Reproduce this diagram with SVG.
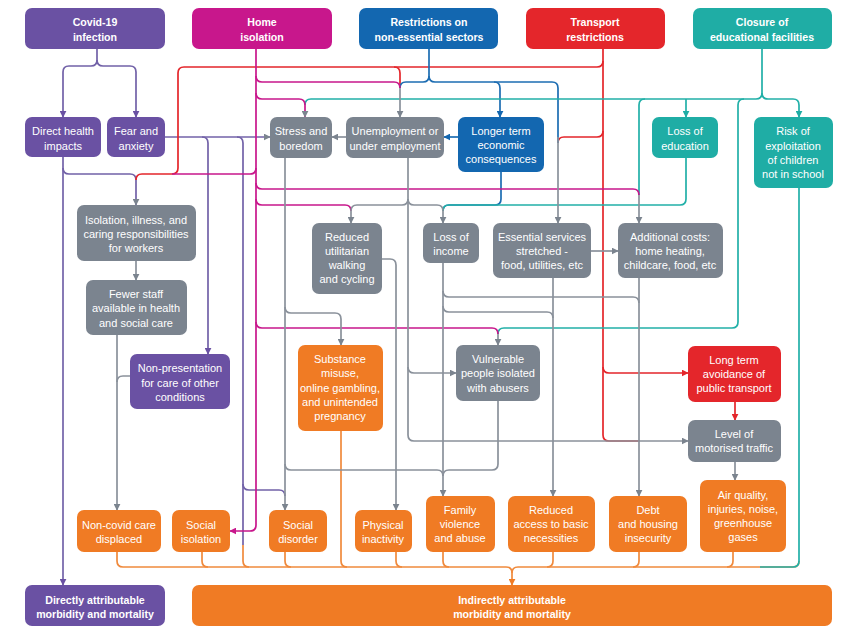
<svg xmlns="http://www.w3.org/2000/svg" width="843" height="626" viewBox="0 0 843 626">
<defs>
<style>
.t{font-family:"Liberation Sans",Arial,sans-serif;font-size:11px;fill:#fff;text-anchor:middle}
.h{font-family:"Liberation Sans",Arial,sans-serif;font-size:10.6px;font-weight:bold;fill:#fff;text-anchor:middle}
.c{fill:none;stroke-width:1.7}
.pu{stroke:#7262a8}.gr{stroke:#8a919b}.mg{stroke:#c8178c}.bl{stroke:#1d6db2}.rd{stroke:#e4262b}.tl{stroke:#22b0a8}.or{stroke:#f08a3c}
.bpu{fill:#6a51a3}.bmg{fill:#c8178c}.bbl{fill:#1367b0}.brd{fill:#e4262b}.btl{fill:#1fada5}.bgr{fill:#7b848f}.bor{fill:#f07b24}
</style>
<marker id="aPu" viewBox="0 0 10 10" refX="9" refY="5" markerWidth="7" markerHeight="7" markerUnits="userSpaceOnUse" orient="auto"><path d="M0,0 L10,5 L0,10 z" fill="#6a51a3"/></marker>
<marker id="aGr" viewBox="0 0 10 10" refX="9" refY="5" markerWidth="7" markerHeight="7" markerUnits="userSpaceOnUse" orient="auto"><path d="M0,0 L10,5 L0,10 z" fill="#7b848f"/></marker>
<marker id="aMg" viewBox="0 0 10 10" refX="9" refY="5" markerWidth="7" markerHeight="7" markerUnits="userSpaceOnUse" orient="auto"><path d="M0,0 L10,5 L0,10 z" fill="#c8178c"/></marker>
<marker id="aBl" viewBox="0 0 10 10" refX="9" refY="5" markerWidth="7" markerHeight="7" markerUnits="userSpaceOnUse" orient="auto"><path d="M0,0 L10,5 L0,10 z" fill="#1367b0"/></marker>
<marker id="aRd" viewBox="0 0 10 10" refX="9" refY="5" markerWidth="7" markerHeight="7" markerUnits="userSpaceOnUse" orient="auto"><path d="M0,0 L10,5 L0,10 z" fill="#e4262b"/></marker>
<marker id="aTl" viewBox="0 0 10 10" refX="9" refY="5" markerWidth="7" markerHeight="7" markerUnits="userSpaceOnUse" orient="auto"><path d="M0,0 L10,5 L0,10 z" fill="#1fada5"/></marker>
<marker id="aOr" viewBox="0 0 10 10" refX="9" refY="5" markerWidth="7" markerHeight="7" markerUnits="userSpaceOnUse" orient="auto"><path d="M0,0 L10,5 L0,10 z" fill="#f07b24"/></marker>
</defs>
<rect width="843" height="626" fill="#fff"/>
<g id="connectors">
<!-- orange bus -->
<path class="c or" d="M117,552 V561 Q117,567 123,567 H506 Q512,567 512,573 V585" marker-end="url(#aOr)"/>
<path class="c or" d="M202,552 V561 Q202,567 208,567"/>
<path class="c or" d="M243,545 V561 Q243,567 249,567"/>
<path class="c or" d="M285,552 V561 Q285,567 291,567"/>
<path class="c or" d="M341,431 V561 Q341,567 347,567"/>
<path class="c or" d="M396,552 V561 Q396,567 402,567"/>
<path class="c or" d="M443,552 V561 Q443,567 449,567"/>
<path class="c or" d="M799,561 Q799,567 793,567 H518 Q512,567 512,573"/>
<path class="c or" d="M553,552 V561 Q553,567 547,567"/>
<path class="c or" d="M639,552 V561 Q639,567 633,567"/>
<path class="c or" d="M733,552 V561 Q733,567 727,567"/>
<!-- purple -->
<path class="c pu" d="M97,49 V60 Q97,66 91,66 H69 Q63,66 63,72 V117" marker-end="url(#aPu)"/>
<path class="c pu" d="M97,60 Q97,66 103,66 H130 Q136,66 136,72 V117" marker-end="url(#aPu)"/>
<path class="c pu" d="M63,157 V585" marker-end="url(#aPu)"/>
<path class="c pu" d="M63,168 Q63,174 69,174 H130 Q136,174 136,180 V205" marker-end="url(#aGr)"/>
<path class="c pu" d="M165,137 H270" marker-end="url(#aGr)"/>
<path class="c pu" d="M202,137 Q208,137 208,143 V354" marker-end="url(#aPu)"/>
<path class="c pu" d="M237,137 Q243,137 243,143 V545"/>
<path class="c pu" d="M243,484 Q243,490 249,490 H279 Q285,490 285,496"/>
<!-- red -->
<path class="c rd" d="M603,49 V367 Q603,373 609,373 H688" marker-end="url(#aRd)"/>
<path class="c rd" d="M603,367 V435 Q603,441 609,441 H640"/>
<path class="c rd" d="M603,61 Q603,67 597,67 H184 Q178,67 178,73 V168 Q178,174 172,174 H142 Q136,174 136,180"/>
<path class="c rd" d="M394,67 Q400,67 400,73 V88"/>
<path class="c rd" d="M603,131 Q603,137 597,137 H564 Q558,137 558,143"/>
<path class="c rd" d="M735,402 V420" marker-end="url(#aRd)"/>
<!-- blue -->
<path class="c bl" d="M429,49 V76 Q429,82 423,82 H406 Q400,82 400,88"/>
<path class="c bl" d="M429,76 Q429,82 435,82 H494 Q500,82 500,88 V117" marker-end="url(#aBl)"/>
<path class="c bl" d="M494,82 H552 Q558,82 558,88 V143"/>
<path class="c bl" d="M458,137 H444" marker-end="url(#aBl)"/>
<path class="c bl" d="M501,172 V199 Q501,205 495,205 H449 Q443,205 443,211"/>
<!-- teal -->
<path class="c tl" d="M762,49 V93 Q762,99 756,99 H311 Q305,99 305,105"/>
<path class="c tl" d="M762,93 Q762,99 768,99 H793 Q799,99 799,105 V117" marker-end="url(#aTl)"/>
<path class="c tl" d="M686,99 V117" marker-end="url(#aTl)"/>
<path class="c tl" d="M645,99 Q639,99 639,105 V195"/>
<path class="c tl" d="M744,99 Q738,99 738,105 V322 Q738,328 732,328 H504 Q498,328 498,334"/>
<path class="c tl" d="M686,158 V199 Q686,205 680,205 H449 Q443,205 443,211"/>
<path class="c tl" d="M799,188 V561 Q799,567 793,567 H760"/>
<!-- magenta -->
<path class="c mg" d="M256,49 V525 Q256,531 250,531 H230" marker-end="url(#aMg)"/>
<path class="c mg" d="M256,76 Q256,82 262,82 H394 Q400,82 400,88"/>
<path class="c mg" d="M256,93 Q256,99 262,99 H299 Q305,99 305,105 V117" marker-end="url(#aGr)"/>
<path class="c mg" d="M256,168 Q256,174 250,174 H172"/>
<path class="c mg" d="M256,183 Q256,189 262,189 H633 Q639,189 639,195"/>
<path class="c mg" d="M256,199 Q256,205 262,205 H345 Q351,205 351,211"/>
<path class="c mg" d="M256,322 Q256,328 262,328 H492 Q498,328 498,334"/>
<!-- gray -->
<path class="c gr" d="M400,88 V117" marker-end="url(#aGr)"/>
<path class="c gr" d="M558,137 V223" marker-end="url(#aGr)"/>
<path class="c gr" d="M639,195 V223" marker-end="url(#aGr)"/>
<path class="c gr" d="M498,334 V345" marker-end="url(#aGr)"/>
<path class="c gr" d="M346,137 H332" marker-end="url(#aGr)"/>
<path class="c gr" d="M408,158 V435 Q408,441 414,441 H688" marker-end="url(#aGr)"/>
<path class="c gr" d="M408,199 Q408,205 402,205 H357 Q351,205 351,211 V223" marker-end="url(#aGr)"/>
<path class="c gr" d="M408,199 Q408,205 414,205 H437 Q443,205 443,211 V223" marker-end="url(#aGr)"/>
<path class="c gr" d="M408,367 Q408,373 414,373 H456" marker-end="url(#aGr)"/>
<path class="c gr" d="M285,158 V510" marker-end="url(#aGr)"/>
<path class="c gr" d="M285,307 Q285,313 291,313 H335 Q341,313 341,319 V345" marker-end="url(#aGr)"/>
<path class="c gr" d="M285,464 Q285,470 291,470 H437 Q443,470 443,476"/>
<path class="c gr" d="M136,261 V280" marker-end="url(#aGr)"/>
<path class="c gr" d="M117,335 V510" marker-end="url(#aGr)"/>
<path class="c gr" d="M130,376 H123 Q117,376 117,382"/>
<path class="c gr" d="M382,259 H390 Q396,259 396,265 V510" marker-end="url(#aGr)"/>
<path class="c gr" d="M443,263 V496" marker-end="url(#aGr)"/>
<path class="c gr" d="M443,291 Q443,297 449,297 H633 Q639,297 639,303"/>
<path class="c gr" d="M443,306 Q443,312 449,312 H547 Q553,312 553,318"/>
<path class="c gr" d="M553,278 V496" marker-end="url(#aGr)"/>
<path class="c gr" d="M591,251 H618" marker-end="url(#aGr)"/>
<path class="c gr" d="M639,278 V496" marker-end="url(#aGr)"/>
<path class="c gr" d="M498,401 V464 Q498,470 492,470 H449 Q443,470 443,476"/>
<path class="c gr" d="M735,462 V480" marker-end="url(#aGr)"/>
</g>
<g id="covid"><rect class="bpu" x="25" y="8" width="140" height="41" rx="7"/><text class="h" x="95" y="26">Covid-19</text><text class="h" x="95" y="41">infection</text></g>
<g id="home"><rect class="bmg" x="192" y="8" width="140" height="41" rx="7"/><text class="h" x="262" y="26">Home</text><text class="h" x="262" y="41">isolation</text></g>
<g id="restrictions"><rect class="bbl" x="359" y="8" width="139" height="41" rx="7"/><text class="h" x="429" y="26">Restrictions on</text><text class="h" x="429" y="41">non-essential sectors</text></g>
<g id="transport"><rect class="brd" x="526" y="8" width="139" height="41" rx="7"/><text class="h" x="595" y="26">Transport</text><text class="h" x="595" y="41">restrictions</text></g>
<g id="closure"><rect class="btl" x="693" y="8" width="139" height="41" rx="7"/><text class="h" x="762" y="26">Closure of</text><text class="h" x="762" y="41">educational facilities</text></g>
<g id="direct"><rect class="bpu" x="25" y="117" width="76" height="40" rx="7"/><text class="t" x="63" y="135">Direct health</text><text class="t" x="63" y="150">impacts</text></g>
<g id="fear"><rect class="bpu" x="107" y="117" width="58" height="40" rx="7"/><text class="t" x="136" y="135">Fear and</text><text class="t" x="136" y="150">anxiety</text></g>
<g id="stress"><rect class="bgr" x="270" y="117" width="62" height="41" rx="7"/><text class="t" x="301" y="135">Stress and</text><text class="t" x="301" y="150">boredom</text></g>
<g id="unemployment"><rect class="bgr" x="346" y="117" width="98" height="41" rx="7"/><text class="t" x="395" y="135">Unemployment or</text><text class="t" x="395" y="150">under employment</text></g>
<g id="longer"><rect class="bbl" x="458" y="117" width="86" height="55" rx="7"/><text class="t" x="501" y="135">Longer term</text><text class="t" x="501" y="149">economic</text><text class="t" x="501" y="163">consequences</text></g>
<g id="education"><rect class="btl" x="652" y="117" width="66" height="41" rx="7"/><text class="t" x="685" y="135">Loss of</text><text class="t" x="685" y="150">education</text></g>
<g id="risk"><rect class="btl" x="754" y="117" width="79" height="71" rx="7"/><text class="t" x="793" y="135">Risk of</text><text class="t" x="793" y="150">exploitation</text><text class="t" x="793" y="164">of children</text><text class="t" x="793" y="178">not in school</text></g>
<g id="isolation"><rect class="bgr" x="77" y="205" width="119" height="56" rx="7"/><text class="t" x="136" y="224">Isolation, illness, and</text><text class="t" x="136" y="238">caring responsibilities</text><text class="t" x="136" y="252">for workers</text></g>
<g id="fewer"><rect class="bgr" x="86" y="280" width="101" height="55" rx="7"/><text class="t" x="136" y="298">Fewer staff</text><text class="t" x="136" y="312">available in health</text><text class="t" x="136" y="327">and social care</text></g>
<g id="nonpresentation"><rect class="bpu" x="130" y="354" width="100" height="55" rx="7"/><text class="t" x="180" y="372">Non-presentation</text><text class="t" x="180" y="387">for care of other</text><text class="t" x="180" y="401">conditions</text></g>
<g id="walking"><rect class="bgr" x="312" y="223" width="70" height="71" rx="7"/><text class="t" x="347" y="241">Reduced</text><text class="t" x="347" y="255">utilitarian</text><text class="t" x="347" y="269">walking</text><text class="t" x="347" y="283">and cycling</text></g>
<g id="income"><rect class="bgr" x="423" y="223" width="56" height="40" rx="7"/><text class="t" x="451" y="241">Loss of</text><text class="t" x="451" y="255">income</text></g>
<g id="essential"><rect class="bgr" x="493" y="223" width="98" height="55" rx="7"/><text class="t" x="542" y="241">Essential services</text><text class="t" x="542" y="255">stretched -</text><text class="t" x="542" y="269">food, utilities, etc</text></g>
<g id="additional"><rect class="bgr" x="618" y="223" width="105" height="55" rx="7"/><text class="t" x="670" y="241">Additional costs:</text><text class="t" x="670" y="255">home heating,</text><text class="t" x="670" y="269">childcare, food, etc</text></g>
<g id="substance"><rect class="bor" x="298" y="345" width="85" height="86" rx="7"/><text class="t" x="340" y="363">Substance</text><text class="t" x="340" y="377">misuse,</text><text class="t" x="340" y="392">online gambling,</text><text class="t" x="340" y="406">and unintended</text><text class="t" x="340" y="420">pregnancy</text></g>
<g id="vulnerable"><rect class="bgr" x="456" y="345" width="84" height="56" rx="7"/><text class="t" x="498" y="363">Vulnerable</text><text class="t" x="498" y="377">people isolated</text><text class="t" x="498" y="392">with abusers</text></g>
<g id="avoidance"><rect class="brd" x="688" y="346" width="93" height="56" rx="7"/><text class="t" x="734" y="364">Long term</text><text class="t" x="734" y="378">avoidance of</text><text class="t" x="734" y="392">public transport</text></g>
<g id="traffic"><rect class="bgr" x="688" y="420" width="93" height="42" rx="7"/><text class="t" x="734" y="438">Level of</text><text class="t" x="734" y="452">motorised traffic</text></g>
<g id="air"><rect class="bor" x="700" y="480" width="86" height="72" rx="7"/><text class="t" x="743" y="499">Air quality,</text><text class="t" x="743" y="513">injuries, noise,</text><text class="t" x="743" y="527">greenhouse</text><text class="t" x="743" y="541">gases</text></g>
<g id="noncovid"><rect class="bor" x="77" y="510" width="84" height="42" rx="7"/><text class="t" x="119" y="529">Non-covid care</text><text class="t" x="119" y="543">displaced</text></g>
<g id="socialisolation"><rect class="bor" x="172" y="510" width="58" height="42" rx="7"/><text class="t" x="201" y="529">Social</text><text class="t" x="201" y="543">isolation</text></g>
<g id="disorder"><rect class="bor" x="269" y="510" width="58" height="42" rx="7"/><text class="t" x="298" y="529">Social</text><text class="t" x="298" y="543">disorder</text></g>
<g id="inactivity"><rect class="bor" x="355" y="510" width="57" height="42" rx="7"/><text class="t" x="383" y="529">Physical</text><text class="t" x="383" y="543">inactivity</text></g>
<g id="family"><rect class="bor" x="426" y="496" width="69" height="56" rx="7"/><text class="t" x="460" y="514">Family</text><text class="t" x="460" y="528">violence</text><text class="t" x="460" y="542">and abuse</text></g>
<g id="access"><rect class="bor" x="508" y="496" width="87" height="56" rx="7"/><text class="t" x="551" y="514">Reduced</text><text class="t" x="551" y="528">access to basic</text><text class="t" x="551" y="542">necessities</text></g>
<g id="debt"><rect class="bor" x="609" y="496" width="78" height="56" rx="7"/><text class="t" x="648" y="514">Debt</text><text class="t" x="648" y="528">and housing</text><text class="t" x="648" y="542">insecurity</text></g>
<g id="directly"><rect class="bpu" x="25" y="585" width="140" height="41" rx="7"/><text class="h" x="95" y="604">Directly attributable</text><text class="h" x="95" y="618">morbidity and mortality</text></g>
<g id="indirectly"><rect class="bor" x="192" y="585" width="640" height="41" rx="7"/><text class="h" x="512" y="604">Indirectly attributable</text><text class="h" x="512" y="618">morbidity and mortality</text></g>
</svg>
